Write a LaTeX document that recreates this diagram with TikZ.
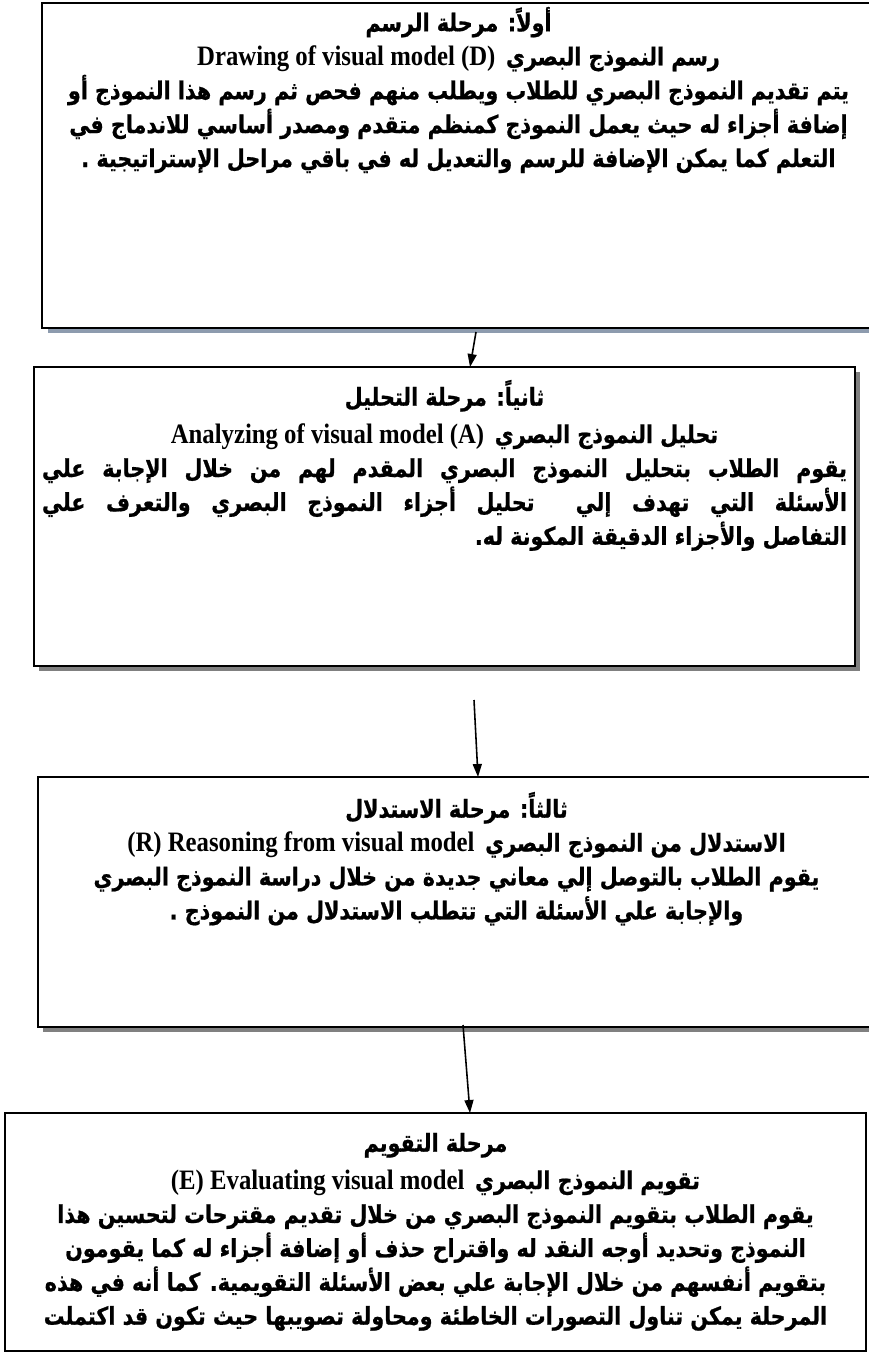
\documentclass[tikz,border=0pt]{standalone}
\usepackage{fontspec}
\setmainfont{Liberation Serif}
\newfontfamily\arabicfont[Script=Arabic, FakeStretch=0.84, FakeBold=0.8]{DejaVu Sans}
\newfontfamily\enfont[FakeStretch=0.88]{Liberation Serif}
\TeXXeTstate=1
\usepackage{tikz}
\definecolor{shadeblue}{RGB}{141,155,174}
\definecolor{shadegray}{RGB}{128,128,128}
\usetikzlibrary{
  arrows.meta,
  positioning,
  shadows
}
\newcommand{\enpart}[1]{\hbox{\enfont\bfseries\fontsize{16}{19.3}\selectfont #1}\kern6pt}
\newcommand{\arline}[1]{\beginR #1\endR}

\begin{document}
\begin{tikzpicture}[
  stagebox/.style={rectangle, draw=black, line width=1.6pt, fill=white, inner sep=0pt},
  blueshadow/.style={drop shadow={shadow xshift=0.12cm, shadow yshift=-0.1cm, fill=shadeblue, opacity=1}},
  grayshadow/.style={drop shadow={shadow xshift=0.1cm, shadow yshift=-0.1cm, fill=shadegray, opacity=1}},
  stagetext/.style={inner sep=0pt, align=center, font=\arabicfont\bfseries\fontsize{14}{19.3}\selectfont},
  edge/.style={-{Triangle[length=0.26cm, width=0.18cm]}, line width=0.9pt, black}
]
  \useasboundingbox (0,0) rectangle (17.38,-27.1);

  % Boxes
  \node[stagebox, blueshadow, minimum width=16.66cm, minimum height=6.5cm] (stageone) at (9.17,-3.31) {};
  \node[stagebox, grayshadow, minimum width=16.42cm, minimum height=5.98cm] (stagetwo) at (8.89,-10.33) {};
  \node[stagebox, grayshadow, minimum width=16.74cm, minimum height=5.0cm] (stagethree) at (9.13,-18.04) {};
  \node[stagebox, minimum width=17.22cm, minimum height=4.76cm] (stagefour) at (8.71,-24.64) {};

  % Texts (English part first: it stands left of the Arabic)
  \node[stagetext, below=0.1cm of stageone.north] (textone) {
    \arline{أولاً: مرحلة الرسم}\\
    \enpart{Drawing of visual model (D)}\arline{رسم النموذج البصري}\\
    \arline{يتم تقديم النموذج البصري للطلاب ويطلب منهم فحص ثم رسم هذا النموذج أو}\\
    \arline{إضافة أجزاء له حيث يعمل النموذج كمنظم متقدم ومصدر أساسي للاندماج في}\\
    \arline{التعلم كما يمكن الإضافة للرسم والتعديل له في باقي مراحل الإستراتيجية .}};
  \node[stagetext, below=0.28cm of stagetwo.north] (texttwo) {
    \arline{ثانياً: مرحلة التحليل}\\[2pt]
    \enpart{Analyzing of visual model (A)}\arline{تحليل النموذج البصري}\\
    \makebox[16.1cm][s]{\arline{يقوم الطلاب بتحليل النموذج البصري المقدم لهم من خلال الإجابة علي}}\\
    \makebox[16.1cm][s]{\arline{الأسئلة التي تهدف إلي \ تحليل أجزاء النموذج البصري والتعرف علي}}\\
    \makebox[16.1cm][r]{\arline{التفاصل والأجزاء الدقيقة المكونة له.}}};
  \node[stagetext, below=0.32cm of stagethree.north] (textthree) {
    \arline{ثالثاً: مرحلة الاستدلال}\\
    \enpart{(R) Reasoning from visual model}\arline{الاستدلال من النموذج البصري}\\
    \arline{يقوم الطلاب بالتوصل إلي معاني جديدة من خلال دراسة النموذج البصري}\\
    \arline{والإجابة علي الأسئلة التي تتطلب الاستدلال من النموذج .}};
  \node[stagetext, below=0.42cm of stagefour.north] (textfour) {
    \arline{مرحلة التقويم}\\[2pt]
    \enpart{(E) Evaluating visual model}\arline{تقويم النموذج البصري}\\
    \arline{يقوم الطلاب بتقويم النموذج البصري من خلال تقديم مقترحات لتحسين هذا}\\
    \arline{النموذج وتحديد أوجه النقد له واقتراح حذف أو إضافة أجزاء له كما يقومون}\\
    \arline{بتقويم أنفسهم من خلال الإجابة علي بعض الأسئلة التقويمية. كما أنه في هذه}\\
    \arline{المرحلة يمكن تناول التصورات الخاطئة ومحاولة تصويبها حيث تكون قد اكتملت}};

  % Arrow ends
  \coordinate (tailone) at (9.52,-6.64);
  \coordinate (tipone) at (9.40,-7.34);
  \coordinate (tailtwo) at (9.48,-14.0);
  \coordinate (tiptwo) at (9.56,-15.54);
  \coordinate (tailthree) at (9.26,-20.5);
  \coordinate (tipthree) at (9.40,-22.26);

  % Edges
  \draw[edge] (tailone) -- (tipone);
  \draw[edge] (tailtwo) -- (tiptwo);
  \draw[edge] (tailthree) -- (tipthree);
\end{tikzpicture}
\end{document}
